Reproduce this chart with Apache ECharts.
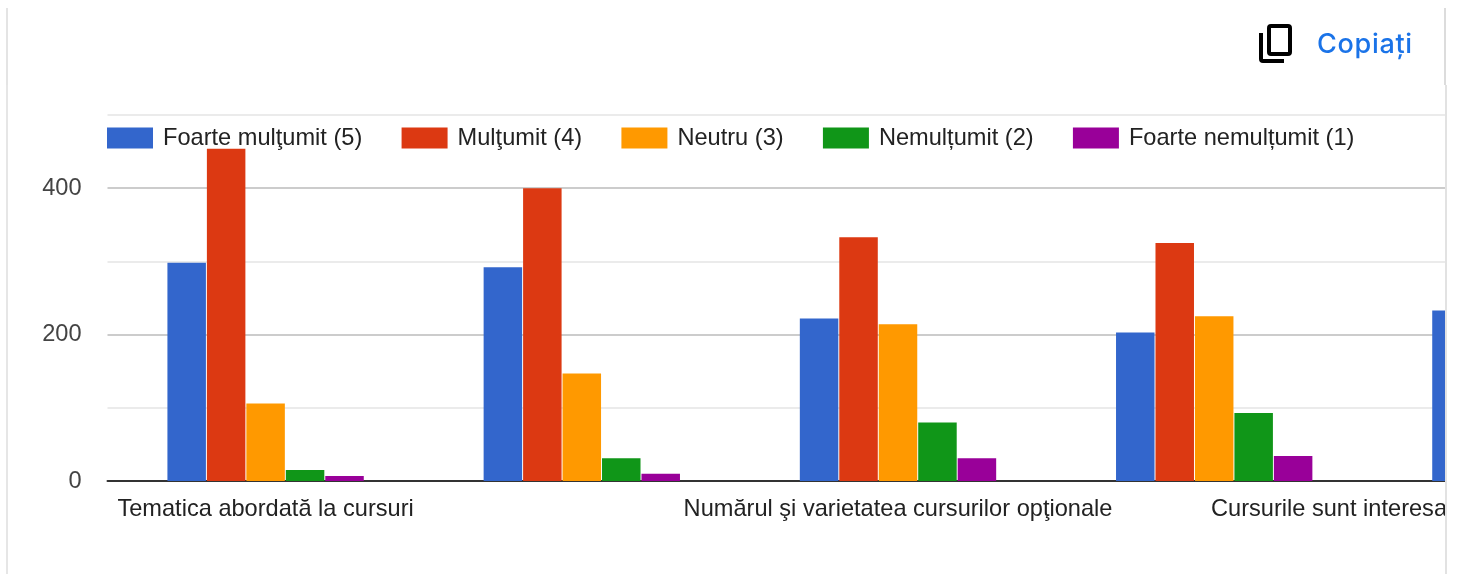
<!DOCTYPE html>
<html>
<head>
<meta charset="utf-8">
<script src="https://cdn.jsdelivr.net/npm/echarts@6/dist/echarts.min.js"></script>
<style>
    html, body { margin: 0; padding: 0; background: #fff; overflow: hidden; }
    #frame { position: absolute; left: 0; top: 0; width: 1445px; height: 574px; overflow: hidden; }
    #main { position: absolute; left: 0; top: 0; width: 1720px; height: 574px; }
    .edge { position: absolute; width: 2px; }
    #copyLabel { position: absolute; left: 1317px; top: 27px; font: 500 27px Inter, sans-serif; letter-spacing: .7px; color: #1a73e8; }
    #copyIcon { position: absolute; left: 1256px; top: 21px; }
</style>
</head>
<body>
<div id="frame"><div id="main"></div></div>
<div class="edge" style="left:6px;top:8px;height:77px;background:#e4e4e4"></div>
<div class="edge" style="left:6px;top:85px;height:489px;background:#e6e6e6"></div>
<div class="edge" style="left:1444px;top:8px;height:77px;background:#dcdcdc"></div>
<div class="edge" style="left:1445px;top:85px;height:489px;background:#e2e2e2"></div>
<svg id="copyIcon" width="40" height="44" fill="none" stroke="#000" stroke-width="4">
    <rect x="13" y="5" width="21" height="28" rx="2"/>
    <path d="M5 12V38a2 2 0 0 0 2 2H28"/>
</svg>
<div id="copyLabel">Copiați</div>
<script>
// categories, only every second label is drawn on the axis
const categories = [
    'Tematica abordată la cursuri',
    '',
    'Numărul şi varietatea cursurilor opţionale',
    '',
    ''
]
const clippedLabel = 'Cursurile sunt interesante'

const seriesNames = ['Foarte mulţumit (5)', 'Mulţumit (4)', 'Neutru (3)', 'Nemulțumit (2)', 'Foarte nemulțumit (1)']
const colors = ['#3366cc', '#dc3912', '#ff9900', '#109618', '#990099']

// the fifth group is cut off by the frame, only its first bar can be read
const foarteMultumit = [298, 292, 222, 203, 233]
const multumit = [454, 400, 333, 325, null]
const neutru = [106, 147, 214, 225, null]
const nemultumit = [15, 31, 80, 93, null]
const foarteNemultumit = [7, 10, 31, 34, null]
const values = [foarteMultumit, multumit, neutru, nemultumit, foarteNemultumit]

const yLabels = [0, 200, 400]

const chart = echarts.init(document.getElementById('main'))
const font = '"Liberation Sans", Arial, sans-serif'

const option = {
    animation: false,
    textStyle: { fontFamily: font },
    legend: {
        left: 107,
        top: 126,
        padding: 0,
        itemWidth: 46,
        itemHeight: 21,
        itemGap: 39.3,
        icon: 'rect',
        textStyle: { fontFamily: font, fontSize: 23.6, color: '#222', padding: [2, 0, 0, 5] },
        data: seriesNames
    },
    grid: { left: 107.5, top: 115, width: 1581, height: 366 },
    xAxis: {
        type: 'category',
        data: categories,
        axisTick: { show: false },
        axisLine: { lineStyle: { color: '#333', width: 2 } },
        axisLabel: { interval: 0, margin: 16, fontFamily: font, fontSize: 23.6, color: '#222' }
    },
    yAxis: {
        type: 'value',
        min: 0,
        max: 500,
        interval: 100,
        axisLine: { show: false },
        axisTick: { show: false },
        splitLine: { lineStyle: { color: ['#cccccc', '#ebebeb'], width: 2 } },
        axisLabel: {
            margin: 26,
            padding: [4, 0, 0, 0],
            fontFamily: font,
            fontSize: 23.6,
            color: '#444',
            formatter: function (v) { return yLabels.indexOf(v) >= 0 ? String(v) : '' }
        }
    },
    graphic: [{
        type: 'text',
        left: 1211,
        top: 497,
        style: { text: clippedLabel, font: '23.6px ' + font, fill: '#222' }
    }],
    series: seriesNames.map(function (name, i) {
        return {
            name: name,
            type: 'bar',
            data: values[i],
            barWidth: 38.5,
            barGap: '2.5%',
            itemStyle: { color: colors[i] }
        }
    })
}
chart.setOption(option)
</script>
</body>
</html>
